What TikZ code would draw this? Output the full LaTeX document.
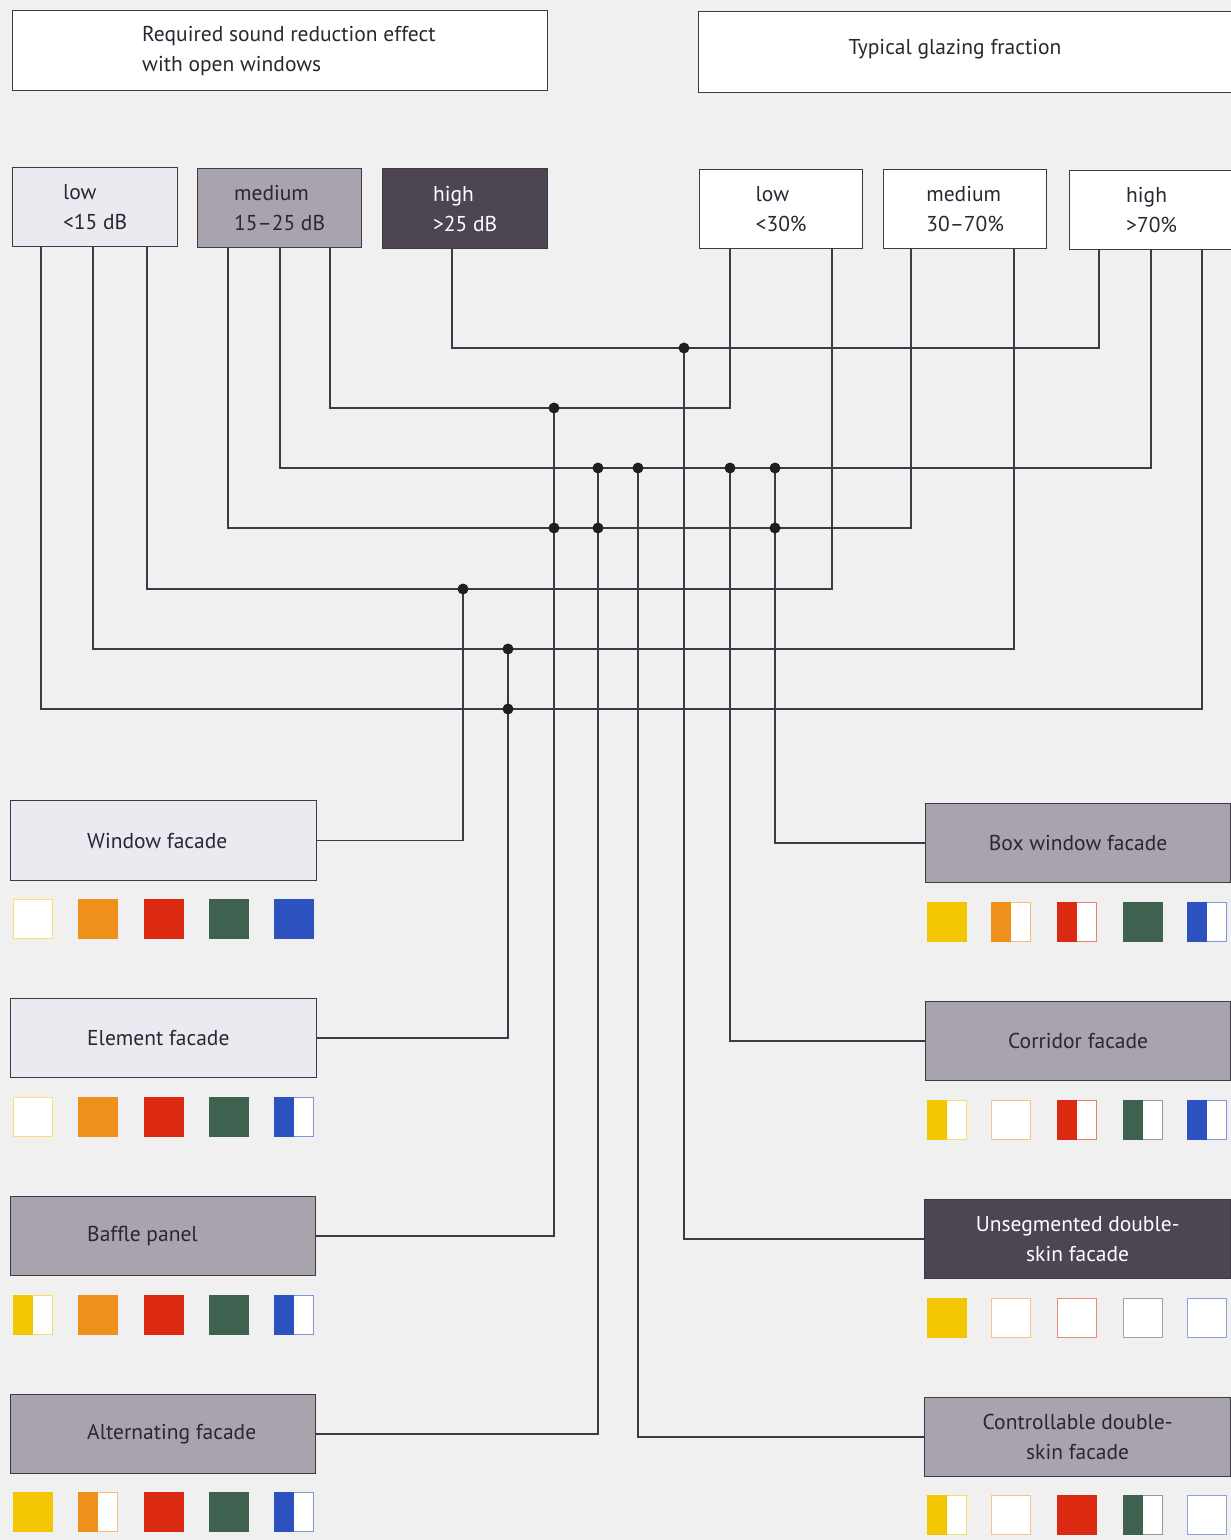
\documentclass[tikz,border=0pt]{standalone}
\usepackage{fontspec}
\setmainfont{PT Sans}
\definecolor{bg}{HTML}{F0F0F0}
\definecolor{linec}{HTML}{3C3A46}
\definecolor{lowc}{HTML}{ECE9F1}
\definecolor{medc}{HTML}{A9A3AE}
\definecolor{highc}{HTML}{4D4552}
\definecolor{txtc}{HTML}{2A2733}
\definecolor{cY}{HTML}{F2C600}
\definecolor{cO}{HTML}{F0901C}
\definecolor{cR}{HTML}{DC2A12}
\definecolor{cG}{HTML}{3F6250}
\definecolor{cB}{HTML}{2D52C0}
\newcommand\sqF[3]{\fill[#3] (#1,#2) rectangle ++(40,40);}
\newcommand\sqH[3]{\fill[white] (#1,#2) rectangle ++(40,40);
  \draw[#3!60, line width=1.2pt] (#1+0.6,#2+0.6) rectangle ++(38.8,38.8);
  \fill[#3] (#1,#2) rectangle ++(20,40);}
\newcommand\sqE[3]{\fill[white] (#1,#2) rectangle ++(40,40);
  \draw[#3!55, line width=1.2pt] (#1+0.6,#2+0.6) rectangle ++(38.8,38.8);}
\begin{document}
\begin{tikzpicture}[x=1pt,y=-1pt, font=\fontsize{21.5}{30}\selectfont, text=txtc,
  box/.style={draw=linec, line width=1.3pt, inner sep=0pt, anchor=north west, align=left},
  lbl/.style={inner sep=0pt, anchor=west, align=left},
  conn/.style={draw=linec, line width=1.4pt},
  ]
\path[use as bounding box, fill=bg] (0,0) rectangle (1231,1540);

% title boxes
\node[box, fill=white, minimum width=535, minimum height=80] (title1) at (12,10) {};
\node[lbl] (title1t) at ([xshift=130pt]title1.west) {Required sound reduction effect\\with open windows};
\node[box, fill=white, minimum width=545, minimum height=81] (title2) at (698,11) {};
\node[inner sep=0pt] (title2t) at (955,49) {Typical glazing fraction};

% category boxes
\node[box, fill=lowc, minimum width=165, minimum height=79] (lowdb) at (12,167) {low\\<15 dB};
\node[box, fill=medc, minimum width=164, minimum height=79] (meddb) at (197,168) {medium\\15–25 dB};
\node[box, fill=highc, text=white, minimum width=165, minimum height=80] (hidb) at (382,168) {high\\>25 dB};
\node[box, fill=white, minimum width=163, minimum height=79] (lowpct) at (699,169) {low\\<30\%};
\node[box, fill=white, minimum width=163, minimum height=79] (medpct) at (883,169) {medium\\30–70\%};
\node[box, fill=white, minimum width=164, minimum height=79] (hipct) at (1069,170) {high\\>70\%};

% facade boxes
\node[box, fill=lowc, minimum width=306, minimum height=80] (winf) at (10,800) {};
\node[lbl] (winft) at ([xshift=77pt]winf.west) {Window facade};
\node[box, fill=lowc, minimum width=306, minimum height=79] (elf) at (10,998) {};
\node[lbl] (elft) at ([xshift=77pt]elf.west) {Element facade};
\node[box, fill=medc, minimum width=305, minimum height=79] (baf) at (10,1196) {};
\node[lbl] (baft) at ([xshift=77pt]baf.west) {Baffle panel};
\node[box, fill=medc, minimum width=305, minimum height=79] (altf) at (10,1394) {};
\node[lbl] (altft) at ([xshift=77pt]altf.west) {Alternating facade};

\node[box, align=center, fill=medc, minimum width=305, minimum height=79] (boxf) at (925,803) {Box window facade};
\node[box, align=center, fill=medc, minimum width=305, minimum height=79] (corf) at (925,1001) {Corridor facade};
\node[box, align=center, fill=highc, text=white, minimum width=306, minimum height=79] (unsf) at (924,1199) {Unsegmented double-\\skin facade};
\node[box, align=center, fill=medc, minimum width=306, minimum height=79] (ctrlf) at (924,1397) {Controllable double-\\skin facade};

% x positions of the lines leaving the category boxes
\coordinate (L1) at (41,0);
\coordinate (L2) at (93,0);
\coordinate (L3) at (147,0);
\coordinate (M1) at (228,0);
\coordinate (M2) at (280,0);
\coordinate (M3) at (330,0);
\coordinate (H1) at (452,0);
\coordinate (P1) at (730,0);
\coordinate (P2) at (832,0);
\coordinate (Q1) at (911,0);
\coordinate (Q2) at (1014,0);
\coordinate (R1) at (1099,0);
\coordinate (R2) at (1151,0);
\coordinate (R3) at (1202,0);

% junctions
\coordinate (j1) at (684,348);
\coordinate (j2) at (554,408);
\coordinate (j3) at (598,468);
\coordinate (j4) at (638,468);
\coordinate (j5) at (730,468);
\coordinate (j6) at (775,468);
\coordinate (j7) at (554,528);
\coordinate (j8) at (598,528);
\coordinate (j9) at (775,528);
\coordinate (j10) at (463,589);
\coordinate (j11) at (508,649);
\coordinate (j12) at (508,709);

% combination lines
\draw[conn] (hidb.south -| H1) |- (j1) -| (hipct.south -| R1);
\draw[conn] (meddb.south -| M3) |- (j2) -| (lowpct.south -| P1);
\draw[conn] (meddb.south -| M2) |- (j3) -| (hipct.south -| R2);
\draw[conn] (meddb.south -| M1) |- (j7) -| (medpct.south -| Q1);
\draw[conn] (lowdb.south -| L3) |- (j10) -| (lowpct.south -| P2);
\draw[conn] (lowdb.south -| L2) |- (j11) -| (medpct.south -| Q2);
\draw[conn] (lowdb.south -| L1) |- (j12) -| (hipct.south -| R3);

% drops to the facades
\draw[conn] (j10) |- (winf.east);
\draw[conn] (j11) |- (elf.east);
\draw[conn] (j2) |- (baf.east);
\draw[conn] (j3) |- (altf.east);
\draw[conn] (j4) |- (ctrlf.west);
\draw[conn] (j1) |- (unsf.west);
\draw[conn] (j5) |- (corf.west);
\draw[conn] (j6) |- (boxf.west);

\foreach \j in {j1,j2,j3,j4,j5,j6,j7,j8,j9,j10,j11,j12}
  \fill[black!88] (\j) circle[radius=5.5pt];

% colour squares
\foreach \x/\t/\c in {13/E/cY,78/F/cO,144/F/cR,209/F/cG,274/F/cB}
  {\csname sq\t\endcsname{\x}{899}{\c}}
\foreach \x/\t/\c in {13/E/cY,78/F/cO,144/F/cR,209/F/cG,274/H/cB}
  {\csname sq\t\endcsname{\x}{1097}{\c}}
\foreach \x/\t/\c in {13/H/cY,78/F/cO,144/F/cR,209/F/cG,274/H/cB}
  {\csname sq\t\endcsname{\x}{1295}{\c}}
\foreach \x/\t/\c in {13/F/cY,78/H/cO,144/F/cR,209/F/cG,274/H/cB}
  {\csname sq\t\endcsname{\x}{1492}{\c}}
\foreach \x/\t/\c in {927/F/cY,991/H/cO,1057/H/cR,1123/F/cG,1187/H/cB}
  {\csname sq\t\endcsname{\x}{902}{\c}}
\foreach \x/\t/\c in {927/H/cY,991/E/cO,1057/H/cR,1123/H/cG,1187/H/cB}
  {\csname sq\t\endcsname{\x}{1100}{\c}}
\foreach \x/\t/\c in {927/F/cY,991/E/cO,1057/E/cR,1123/E/cG,1187/E/cB}
  {\csname sq\t\endcsname{\x}{1298}{\c}}
\foreach \x/\t/\c in {927/H/cY,991/E/cO,1057/F/cR,1123/H/cG,1187/E/cB}
  {\csname sq\t\endcsname{\x}{1495}{\c}}
\end{tikzpicture}
\end{document}
